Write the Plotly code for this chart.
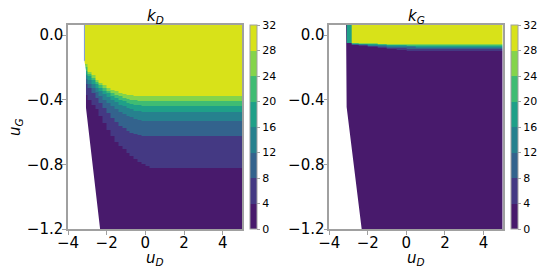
import numpy as np
import plotly.graph_objects as go

# ---------------- data ----------------
levels = [0, 4, 8, 12, 16, 20, 24, 28, 32]
colors = ["#481a6c", "#443983", "#33638d", "#26818e", "#1fa088", "#3fbc73", "#84d44b", "#d8e219"]

x_ticks = [-4, -2, 0, 2, 4]
x_ticktext = ["\u22124", "\u22122", "0", "2", "4"]
y_ticks = [0.0, -0.4, -0.8, -1.2]
y_ticktext = ["0.0", "\u22120.4", "\u22120.8", "\u22121.2"]

# k_D panel: column edges (u_D) and the u_G position of each level boundary per column
kD_edges = [-3.2, -3.0, -2.8, -2.6, -2.4, -2.2, -2.0, -1.8, -1.6, -1.4, -1.2, -1.0,
            -0.8, -0.6, -0.4, -0.2, 0.0, 0.2, 0.4, 5.0]
kD_b28 = [-0.18, -0.225, -0.25, -0.275, -0.295, -0.31, -0.325, -0.337, -0.348, -0.357,
          -0.364, -0.37, -0.374, -0.377, -0.378, -0.378, -0.378, -0.378, -0.378]
kD_b24 = [-0.20, -0.24, -0.265, -0.29, -0.31, -0.327, -0.343, -0.357, -0.37, -0.38,
          -0.388, -0.395, -0.40, -0.403, -0.406, -0.407, -0.407, -0.407, -0.407]
kD_b20 = [-0.22, -0.255, -0.28, -0.305, -0.325, -0.345, -0.36, -0.375, -0.39, -0.40,
          -0.41, -0.418, -0.425, -0.43, -0.434, -0.436, -0.436, -0.436, -0.436]
kD_b16 = [-0.245, -0.275, -0.30, -0.325, -0.345, -0.365, -0.385, -0.40, -0.415, -0.43,
          -0.44, -0.45, -0.46, -0.467, -0.472, -0.475, -0.476, -0.476, -0.476]
kD_b12 = [-0.27, -0.30, -0.325, -0.35, -0.375, -0.40, -0.42, -0.44, -0.46, -0.475,
          -0.49, -0.50, -0.51, -0.52, -0.525, -0.529, -0.531, -0.531, -0.531]
kD_b8 = [-0.30, -0.33, -0.36, -0.39, -0.42, -0.45, -0.48, -0.515, -0.54, -0.56,
         -0.578, -0.592, -0.603, -0.611, -0.617, -0.621, -0.624, -0.624, -0.624]
kD_b4 = [-0.37, -0.40, -0.43, -0.46, -0.50, -0.545, -0.59, -0.625, -0.66, -0.686,
         -0.708, -0.728, -0.748, -0.767, -0.783, -0.797, -0.81, -0.82, -0.823]
# left boundary of the computed region (white outside)
kD_edge_x = [-3.15, -3.15, -3.07, -3.07, -2.34, -4.0, -4.0]
kD_edge_y = [0.07, -0.16, -0.22, -0.45, -1.2, -1.2, 0.07]

# k_G panel
kG_edges = [-3.15, -3.1, -2.85, -2.5, -2.0, -1.5, -1.0, -0.5, 0.0, 0.5, 5.0]
kG_b28 = [0.1, 0.1, -0.049, -0.050, -0.052, -0.053, -0.055, -0.056, -0.057, -0.058]
kG_b24 = [0.1, 0.1, -0.051, -0.053, -0.055, -0.057, -0.059, -0.060, -0.061, -0.062]
kG_b20 = [0.1, 0.1, -0.053, -0.056, -0.058, -0.060, -0.062, -0.064, -0.065, -0.066]
kG_b16 = [0.1, -0.052, -0.055, -0.058, -0.061, -0.064, -0.066, -0.068, -0.070, -0.071]
kG_b12 = [0.1, -0.052, -0.057, -0.061, -0.065, -0.068, -0.071, -0.074, -0.076, -0.077]
kG_b8 = [0.1, -0.052, -0.059, -0.064, -0.069, -0.074, -0.078, -0.082, -0.085, -0.086]
kG_b4 = [0.1, -0.052, -0.062, -0.068, -0.074, -0.080, -0.086, -0.092, -0.097, -0.100]
kG_edge_x = [-3.13, -3.13, -3.10, -2.32, -4.0, -4.0]
kG_edge_y = [0.07, -0.155, -0.445, -1.2, -1.2, 0.07]

# ---------------- build tables ----------------
y_lo, y_hi, dy = -1.2, 0.062, 0.002
y_centers = np.arange(y_lo + dy / 2, y_hi, dy)


def build_z(bounds):
    b = np.array(bounds)  # (7, ncols), ordered from level 4 to 28
    cnt = (y_centers[:, None, None] >= b.T[None, :, :]).sum(axis=2)
    return levels[0] + 2 + 4 * cnt  # midpoint of each band


zD = build_z([kD_b4, kD_b8, kD_b12, kD_b16, kD_b20, kD_b24, kD_b28])
zG = build_z([kG_b4, kG_b8, kG_b12, kG_b16, kG_b20, kG_b24, kG_b28])

n = len(colors)
cscale = []
for i, c in enumerate(colors):
    cscale.append([i / n, c])
    cscale.append([(i + 1) / n, c])

FONT = "DejaVu Sans"
GREY = "#a0a0a0"

dom_x1 = [68 / 548, 242 / 548]
dom_x2 = [329.3 / 548, 502.7 / 548]
dom_y = [1 - 229 / 274, 1 - 25 / 274]
cb_len = dom_y[1] - dom_y[0]
cb_y = (dom_y[0] + dom_y[1]) / 2


def cbar(xpos):
    return dict(x=xpos, xanchor="left", xpad=0, ypad=0, y=cb_y, yanchor="middle",
                len=cb_len, lenmode="fraction", thickness=7,
                outlinecolor=GREY, outlinewidth=1,
                tickvals=levels, ticks="outside", ticklen=3, tickcolor=GREY,
                tickfont=dict(family=FONT, size=11, color="black"))


fig = go.Figure()
fig.add_trace(go.Heatmap(x=kD_edges, y=y_centers, z=zD, zmin=levels[0], zmax=levels[-1],
                         colorscale=cscale, colorbar=cbar(250 / 548),
                         xaxis="x", yaxis="y", hoverinfo="skip"))
fig.add_trace(go.Scatter(x=kD_edge_x, y=kD_edge_y, fill="toself", fillcolor="white",
                         mode="lines", line=dict(width=0, color="white"),
                         xaxis="x", yaxis="y", showlegend=False, hoverinfo="skip"))
fig.add_trace(go.Scatter(x=kD_edge_x[:2], y=kD_edge_y[:2], mode="lines",
                         line=dict(width=1, color="#7d9ad8"),
                         xaxis="x", yaxis="y", showlegend=False, hoverinfo="skip"))

fig.add_trace(go.Heatmap(x=kG_edges, y=y_centers, z=zG, zmin=levels[0], zmax=levels[-1],
                         colorscale=cscale, colorbar=cbar(511 / 548),
                         xaxis="x2", yaxis="y2", hoverinfo="skip"))
fig.add_trace(go.Scatter(x=kG_edge_x, y=kG_edge_y, fill="toself", fillcolor="white",
                         mode="lines", line=dict(width=0, color="white"),
                         xaxis="x2", yaxis="y2", showlegend=False, hoverinfo="skip"))


def xax(dom, anchor):
    return dict(domain=dom, anchor=anchor, range=[-4, 5], tickvals=x_ticks, ticktext=x_ticktext,
                ticks="outside", ticklen=4, tickcolor=GREY, showline=True, mirror=True,
                linecolor=GREY, linewidth=1.5, showgrid=False, zeroline=False,
                automargin=False, ticklabelstandoff=-5,
                tickfont=dict(family=FONT, size=15, color="black"))


def yax(anchor):
    return dict(domain=dom_y, anchor=anchor, range=[y_lo, y_hi], tickvals=y_ticks,
                ticktext=y_ticktext, ticks="outside", ticklen=4, tickcolor=GREY,
                showline=True, mirror=True, linecolor=GREY, linewidth=1.5,
                showgrid=False, zeroline=False, automargin=False, ticklabelstandoff=-4,
                tickfont=dict(family=FONT, size=15, color="black"))


ann = []
c1 = (dom_x1[0] + dom_x1[1]) / 2
c2 = (dom_x2[0] + dom_x2[1]) / 2
for cx, t in [(c1, "<i>k</i><sub><i>D</i></sub>"), (c2, "<i>k</i><sub><i>G</i></sub>")]:
    ann.append(dict(x=cx, y=1 - 16 / 274, xref="paper", yref="paper", text=t, showarrow=False,
                    font=dict(family=FONT, size=15, color="black"), xanchor="center", yanchor="middle"))
for cx in [c1, c2]:
    ann.append(dict(x=cx, y=1 - 258 / 274, xref="paper", yref="paper",
                    text="<i>u</i><sub><i>D</i></sub>", showarrow=False,
                    font=dict(family=FONT, size=15, color="black"), xanchor="center", yanchor="middle"))
ann.append(dict(x=15 / 548, y=cb_y, xref="paper", yref="paper", text="<i>u</i><sub><i>G</i></sub>",
                showarrow=False, textangle=-90, font=dict(family=FONT, size=15, color="black"),
                xanchor="center", yanchor="middle"))

fig.update_layout(
    template="none",
    width=548, height=274, margin=dict(l=0, r=0, t=0, b=0, autoexpand=False),
    paper_bgcolor="white", plot_bgcolor="white",
    xaxis=xax(dom_x1, "y"), yaxis=yax("x"),
    xaxis2=xax(dom_x2, "y2"), yaxis2=yax("x2"),
    annotations=ann, showlegend=False,
)

fig.write_html("out.html", config={"displayModeBar": False},
               post_script="document.body.style.margin='0px';document.body.style.padding='0px';")
